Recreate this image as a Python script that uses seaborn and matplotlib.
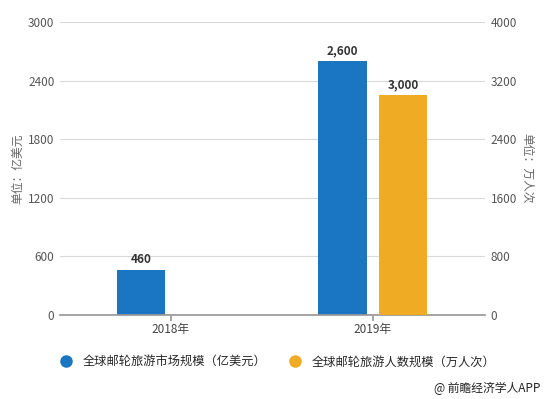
import numpy as np
import pandas as pd
import matplotlib
matplotlib.use("Agg")
import matplotlib.pyplot as plt
from matplotlib.lines import Line2D
import seaborn as sns

# data
years = ["2018年", "2019年"]
market = [460, 2600]            # 亿美元 (left axis)
passengers = [np.nan, 3000]     # 万人次 (right axis)
series = ["全球邮轮旅游市场规模（亿美元）", "全球邮轮旅游人数规模（万人次）"]
colors = ["#1a76c2", "#f0ab25"]

df = pd.DataFrame({
    "year": years * 2,
    "series": [series[0]] * 2 + [series[1]] * 2,
    "value": market + passengers,
})

sns.set_theme(style="white")
plt.rcParams["font.family"] = ["Noto Sans CJK SC", "DejaVu Sans"]

fig = plt.figure(figsize=(5.44, 3.99), dpi=100)
ax1 = fig.add_axes([60 / 544, 1 - 315 / 399, 425 / 544, 293 / 399])
ax2 = ax1.twinx()
pal = dict(zip(series, colors))

sns.barplot(data=df[df.series == series[0]], x="year", y="value", hue="series",
            hue_order=series, palette=pal, width=0.6, gap=0.2, dodge=True,
            ax=ax1, legend=False, saturation=1, linewidth=0)
sns.barplot(data=df[df.series == series[1]], x="year", y="value", hue="series",
            hue_order=series, palette=pal, width=0.6, gap=0.2, dodge=True,
            ax=ax2, legend=False, saturation=1, linewidth=0)

for ax in (ax1, ax2):
    for c in ax.containers:
        ax.bar_label(c, fmt="{:,.0f}", padding=3, fontsize=8.5,
                     fontweight="bold", color="#333333")

ax1.set_xlim(-0.55, 1.555)
ax1.set_ylim(0, 3000)
ax1.set_yticks(range(0, 3001, 600))
ax2.set_ylim(0, 4000)
ax2.set_yticks(range(0, 4001, 800))

ax1.yaxis.grid(True, color="#d9d9d9", linewidth=0.8)
ax1.set_axisbelow(True)
for ax in (ax1, ax2):
    for s in ax.spines.values():
        s.set_visible(False)
    ax.tick_params(axis="y", length=0, labelsize=8.5, labelcolor="#555555", pad=4)
ax1.spines["bottom"].set_visible(True)
ax1.spines["bottom"].set_color("#999999")
ax1.tick_params(axis="x", length=4, color="#999999", labelsize=8.5,
                labelcolor="#444444", bottom=True, pad=2)

ax1.set_xlabel("")
ax1.set_ylabel("单位：亿美元", fontsize=8.5, color="#666666", labelpad=3)
ax2.set_ylabel("单位：万人次", fontsize=8.5, color="#666666", rotation=270,
               labelpad=12)

handles = [Line2D([], [], marker="o", linestyle="", markersize=8,
                  markerfacecolor=c, markeredgecolor=c) for c in colors]
fig.legend(handles, series, loc="center", bbox_to_anchor=(0.505, 1 - 362 / 399),
           ncol=2, frameon=False, fontsize=8.8, handletextpad=0.4,
           columnspacing=1.3)

fig.text(0.993, 1 - 388 / 399, "@ 前瞻经济学人APP", ha="right", va="center",
         fontsize=8.5, color="#222222")

fig.savefig("out.png", dpi=100)
